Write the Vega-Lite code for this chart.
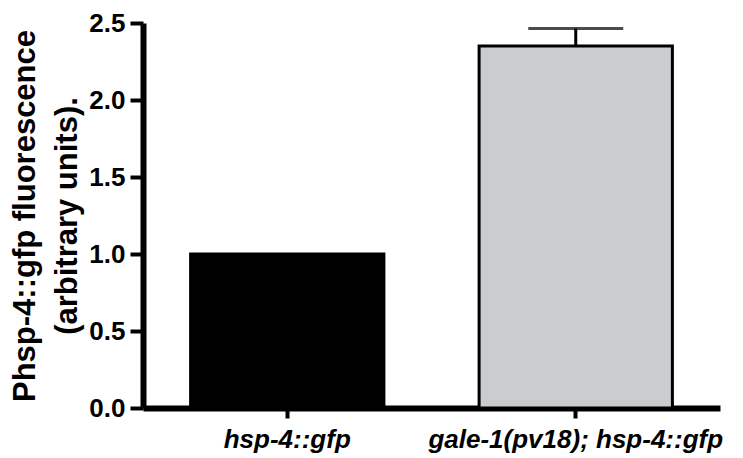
{
  "$schema": "https://vega.github.io/schema/vega-lite/v6.json",
  "autosize": {"type": "none"},
  "padding": {"left": 143, "top": 23, "right": 23, "bottom": 50},
  "width": 577,
  "height": 385,
  "background": "white",
  "config": {
    "view": {"stroke": null},
    "font": "Liberation Sans"
  },
  "data": {"values": [
    {"strain": "hsp-4::gfp", "mean": 1.0, "upper": 1.0, "color": "black"},
    {"strain": "gale-1(pv18); hsp-4::gfp", "mean": 2.35, "upper": 2.465, "color": "gray"}
  ]},
  "layer": [
    {
      "mark": {"type": "bar", "stroke": "black", "strokeWidth": 3},
      "encoding": {
        "x": {
          "field": "strain", "type": "nominal", "sort": null,
          "scale": {"paddingInner": 0.33, "paddingOuter": 0.165},
          "axis": {
            "title": null, "labelAngle": 0, "labelFont": "Liberation Sans", "labelFontSize": 26,
            "labelFontWeight": "bold", "labelFontStyle": "italic", "labelColor": "black",
            "labelPadding": 8, "tickSize": 10, "labelOverlap": false, "labelLimit": 0,
            "domainColor": "black", "domainWidth": 6, "tickColor": "black", "tickWidth": 4
          }
        },
        "y": {
          "field": "mean", "type": "quantitative",
          "scale": {"domain": [0, 2.5], "nice": false},
          "axis": {
            "title": ["Phsp-4::gfp fluorescence", "(arbitrary units)."],
            "titleFont": "Liberation Sans", "titleFontSize": 31, "titleFontWeight": "bold",
            "titleColor": "black", "titleLineHeight": 42, "titlePadding": 5,
            "values": [0, 0.25, 0.5, 0.75, 1, 1.25, 1.5, 1.75, 2, 2.25, 2.5],
            "labelExpr": "datum.value % 0.5 === 0 ? format(datum.value, '.1f') : ''",
            "labelFont": "Liberation Sans", "labelFontSize": 26, "labelFontWeight": "bold",
            "labelColor": "black", "labelPadding": 5, "grid": false,
            "tickSize": {"condition": {"test": "datum.value % 0.5 === 0", "value": 13}, "value": 9},
            "tickWidth": 4, "tickColor": "black",
            "domainColor": "black", "domainWidth": 6
          }
        },
        "fill": {
          "field": "color", "type": "nominal",
          "scale": {"domain": ["black", "gray"], "range": ["#000000", "#cbccce"]},
          "legend": null
        }
      }
    },
    {
      "mark": {"type": "rule", "stroke": "black", "strokeWidth": 3},
      "encoding": {
        "x": {"field": "strain", "type": "nominal", "sort": null},
        "y": {"field": "mean", "type": "quantitative"},
        "y2": {"field": "upper"}
      }
    },
    {
      "mark": {"type": "tick", "color": "black", "size": 95, "thickness": 3},
      "transform": [{"filter": "datum.upper > datum.mean"}],
      "encoding": {
        "x": {"field": "strain", "type": "nominal", "sort": null},
        "y": {"field": "upper", "type": "quantitative"}
      }
    }
  ]
}
